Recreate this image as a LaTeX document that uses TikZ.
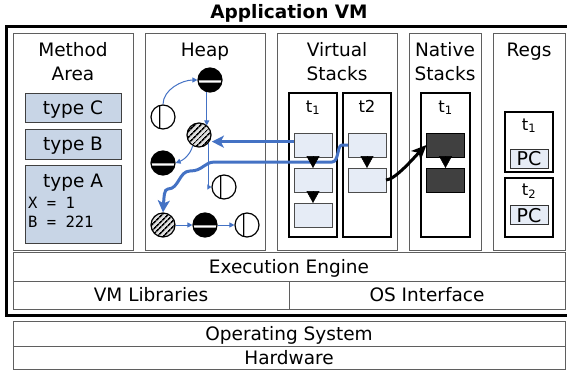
\documentclass[tikz,border=0pt]{standalone}
\usepackage{fontspec}
\setmainfont{DejaVu Sans}
\setmonofont{DejaVu Sans Mono}
\usetikzlibrary{arrows.meta,patterns.meta,calc}
\definecolor{vmblue}{RGB}{68,114,196}
\definecolor{colgray}{RGB}{95,95,95}
\definecolor{typefill}{RGB}{200,213,230}
\definecolor{framefill}{RGB}{230,236,246}
\definecolor{nativefill}{RGB}{64,64,64}
\begin{document}
\begin{tikzpicture}[x=1pt,y=-1pt,
  colbox/.style={draw=colgray, line width=1pt, inner sep=0pt, outer sep=0pt, anchor=north west},
  subbox/.style={draw=black, line width=1.4pt, inner sep=0pt, outer sep=0pt, anchor=north west},
  typebox/.style={draw=black!75, fill=typefill, line width=1pt, inner sep=0pt, outer sep=0pt, anchor=north west, minimum width=96pt},
  stackframe/.style={draw=black!70, fill=framefill, line width=0.9pt, inner sep=0pt, outer sep=0pt, anchor=north west, minimum width=38pt, minimum height=24pt},
  nframe/.style={stackframe, fill=nativefill, draw=black},
  pcbox/.style={draw=black!80, fill=framefill, line width=0.9pt, inner sep=0pt, outer sep=0pt, anchor=north west, minimum width=38pt, minimum height=19pt},
  lab/.style={inner sep=0pt, anchor=base, font=\fontsize{18.5pt}{22pt}\selectfont},
  tlab/.style={inner sep=0pt, anchor=base, font=\fontsize{16.5pt}{19pt}\selectfont},
  monotxt/.style={inner sep=0pt, anchor=base west, font=\fontsize{15.5pt}{18pt}\ttfamily},
  blackball/.style={circle, fill=black, draw=black, line width=1.2pt, minimum size=24pt, inner sep=0pt,
    path picture={\draw[gray!70, line width=3pt] ([yshift=-1pt]path picture bounding box.west) -- ([yshift=-1pt]path picture bounding box.east);
      \draw[white, line width=1pt] ([yshift=-1pt]path picture bounding box.west) -- ([yshift=-1pt]path picture bounding box.east);}},
  whiteball/.style={circle, fill=white, draw=black, line width=1.2pt, minimum size=24pt, inner sep=0pt,
    path picture={\draw[gray!60, line width=2.5pt] ([xshift=-3pt]path picture bounding box.north) -- ([xshift=-3pt]path picture bounding box.south);
      \draw[black, line width=1pt] ([xshift=-4pt]path picture bounding box.north) -- ([xshift=-4pt]path picture bounding box.south);}},
  hatchball/.style={circle, draw=black, line width=1.2pt, minimum size=24pt, inner sep=0pt,
    preaction={fill=gray!25}, pattern={Lines[angle=45,distance=4pt,line width=1.7pt]}, pattern color=black},
  thinarrow/.style={draw=vmblue, line width=1pt, -{Triangle[length=5pt,width=5pt]}},
  thickblue/.style={draw=vmblue, line width=3pt, -{Stealth[length=12pt,width=12pt,inset=3pt]}},
  thickblack/.style={draw=black, line width=3pt, -{Stealth[length=15pt,width=13pt,inset=4pt]}},
  stacktri/.style={draw=black, line width=0.5pt, -{Triangle[length=12pt,width=13pt]}}
]
\useasboundingbox (0,0) rectangle (567,372);
\clip (0,0) rectangle (567,372);

% outer application VM box and title
\node[draw=black, line width=3.2pt, inner sep=0pt, outer sep=0pt, anchor=north west,
      minimum width=566pt, minimum height=289.2pt] (appvm) at (6.7,26.5) {};
\node[lab, font=\bfseries\fontsize{18.5pt}{22pt}\selectfont] (title) at (289,18) {Application VM};

% columns
\node[colbox, minimum width=120pt, minimum height=217pt] (ma) at (13,33) {};
\node[colbox, minimum width=120pt, minimum height=217pt] (heap) at (145,33) {};
\node[colbox, minimum width=120pt, minimum height=217pt] (vs) at (277,33) {};
\node[colbox, minimum width=72pt, minimum height=217pt] (ns) at (409,33) {};
\node[colbox, minimum width=72pt, minimum height=217pt] (regs) at (493,33) {};

\node[lab] (maL1) at (73,56) {Method};
\node[lab] (maL2) at (73,80.5) {Area};
\node[lab] (heapL) at (205,56) {Heap};
\node[lab] (vsL1) at (337,56) {Virtual};
\node[lab] (vsL2) at (337,80.5) {Stacks};
\node[lab] (nsL1) at (445,56) {Native};
\node[lab] (nsL2) at (445,80.5) {Stacks};
\node[lab] (regsL) at (529,56) {Regs};

% method area
\node[typebox, minimum height=29pt] (typeC) at (25,93) {};
\node[typebox, minimum height=30pt] (typeB) at (25,129) {};
\node[typebox, minimum height=78pt] (typeA) at (25,165) {};
\node[lab] (typeCL) at (73,114.5) {type C};
\node[lab] (typeBL) at (73,150) {type B};
\node[lab] (typeAL) at (73,187) {type A};
\node[monotxt] (xval) at (28,208) {X = 1};
\node[monotxt] (bval) at (28,227.5) {B = 221};

% virtual stacks
\node[subbox, minimum width=48pt, minimum height=144pt] (vt1) at (289,93) {};
\node[subbox, minimum width=48pt, minimum height=144pt] (vt2) at (343,93) {};
\node[tlab] (vt1L) at (313,112) {t\textsubscript{1}};
\node[tlab] (vt2L) at (367,112) {t2};
\node[stackframe] (v1a) at (294,133) {};
\node[stackframe] (v1b) at (294,168) {};
\node[stackframe] (v1c) at (294,203) {};
\node[stackframe] (v2a) at (348,133) {};
\node[stackframe] (v2b) at (348,168) {};

% native stacks
\node[subbox, minimum width=49pt, minimum height=144pt] (nt1) at (421,93) {};
\node[tlab] (nt1L) at (445.5,112) {t\textsubscript{1}};
\node[nframe] (nf1) at (426.5,133) {};
\node[nframe] (nf2) at (426.5,168) {};

% registers
\node[subbox, line width=1.1pt, minimum width=48pt, minimum height=60pt] (rt1) at (505,112) {};
\node[subbox, line width=1.1pt, minimum width=48pt, minimum height=59pt] (rt2) at (505,178) {};
\node[tlab] (rt1L) at (529,130) {t\textsubscript{1}};
\node[tlab] (rt2L) at (529,195.5) {t\textsubscript{2}};
\node[pcbox] (pc1) at (510,149) {};
\node[pcbox] (pc2) at (510,205.5) {};
\node[lab, font=\fontsize{19pt}{22pt}\selectfont] (pc1L) at (529,165.5) {PC};
\node[lab, font=\fontsize{19pt}{22pt}\selectfont] (pc2L) at (529,222) {PC};

% bottom layers
\node[colbox, minimum width=552pt, minimum height=29pt] (ee) at (13,252) {};
\node[colbox, minimum width=276pt, minimum height=28pt] (vml) at (13,281) {};
\node[colbox, minimum width=276pt, minimum height=28pt] (osi) at (289,281) {};
\node[colbox, minimum width=552pt, minimum height=25pt] (os) at (13,321) {};
\node[colbox, minimum width=552pt, minimum height=23pt] (hw) at (13,346) {};
\node[lab] (eeL) at (289,273.5) {Execution Engine};
\node[lab] (vmlL) at (151,301.8) {VM Libraries};
\node[lab] (osiL) at (427,301.8) {OS Interface};
\node[lab] (osL) at (289,340.3) {Operating System};
\node[lab] (hwL) at (289,364.2) {Hardware};

% heap objects
\node[blackball] (hb1) at (210,80) {};
\node[whiteball] (hw1) at (163,117) {};
\node[hatchball] (hh1) at (199,135) {};
\node[blackball] (hb2) at (163,163) {};
\node[whiteball] (hw2) at (224,187) {};
\node[hatchball] (hh2) at (163,225) {};
\node[blackball] (hb3) at (205,225) {};
\node[whiteball] (hw3) at (247,225) {};

% heap references
\draw[thinarrow] (hw1.north) .. controls +(0,-15) and +(-15,0) .. (hb1.west);
\draw[thinarrow] (hb1.255) -- (hb1.255 |- hh1.48);
\draw[thinarrow] (hh1.240) .. controls +(-2,8) and +(8,-3) .. (hb2.east);
\draw[thinarrow, -{Triangle[length=4pt,width=5pt]}] (hh1.-40) |- (hw2.west);
\draw[thinarrow] (hh2.east) -- (hb3.west);
\draw[thinarrow] (hb3.east) -- (hw3.west);

% stack roots
\draw[thickblue] (v1a.170) -- (v1a.170 -| hh1.east);
\draw[thickblue] (v2a.west) -- (342,145) .. controls (337,145) and (339,162) .. (332,162)
  -- (215,162) .. controls (204,162) and (203,171) .. (190,171)
  .. controls (179,171) and (179,189) .. (168,189)
  .. controls (164,189) and (164,197) .. (hh2.north);
\draw[thickblack] (v2b.east) .. controls +(9,0) and +(-12,12) .. (nf1.west);

% frame links
\draw[stacktri] (v1a.south) -- (v1b.north);
\draw[stacktri] (v1b.south) -- (v1c.north);
\draw[stacktri] (v2a.south) -- (v2b.north);
\draw[stacktri] (nf1.south) -- (nf2.north);
\end{tikzpicture}
\end{document}
